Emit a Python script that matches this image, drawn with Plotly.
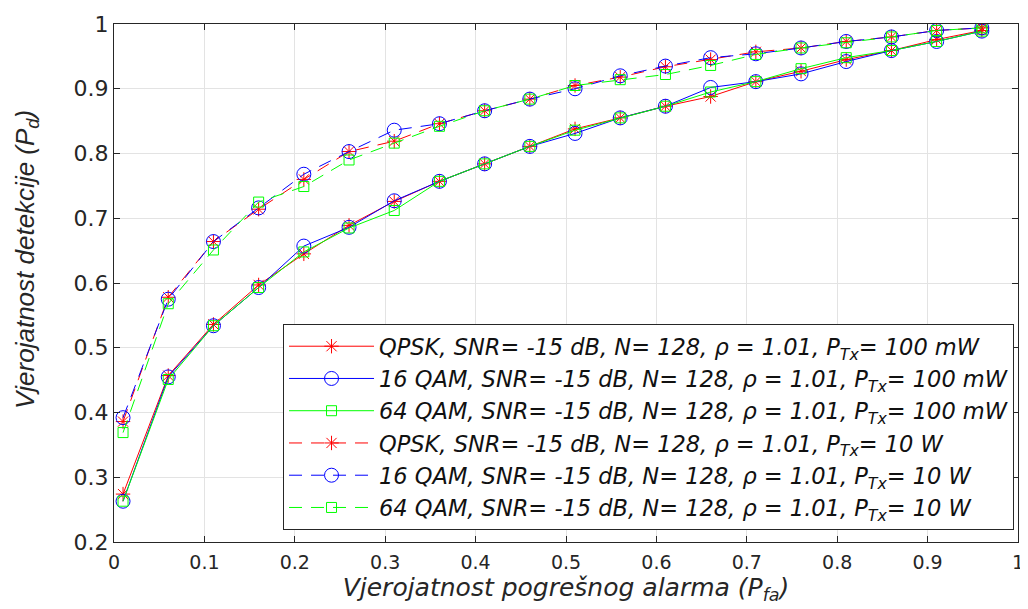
import plotly.graph_objects as go

pfa = [0.01, 0.06, 0.11, 0.16, 0.21, 0.26, 0.31, 0.36, 0.41, 0.46,
       0.51, 0.56, 0.61, 0.66, 0.71, 0.76, 0.81, 0.86, 0.91, 0.96]

qpsk_100mw = [0.274, 0.457, 0.536, 0.597, 0.645, 0.689, 0.726, 0.757, 0.784, 0.811,
              0.838, 0.855, 0.873, 0.888, 0.911, 0.927, 0.945, 0.959, 0.976, 0.990]
qam16_100mw = [0.263, 0.455, 0.534, 0.593, 0.657, 0.686, 0.727, 0.757, 0.784, 0.811,
               0.831, 0.855, 0.873, 0.902, 0.911, 0.923, 0.942, 0.959, 0.973, 0.989]
qam64_100mw = [0.263, 0.451, 0.534, 0.593, 0.648, 0.685, 0.712, 0.757, 0.784, 0.811,
               0.836, 0.855, 0.873, 0.895, 0.911, 0.931, 0.948, 0.959, 0.973, 0.989]
qpsk_10w = [0.386, 0.578, 0.664, 0.714, 0.760, 0.803, 0.819, 0.846, 0.866, 0.884,
            0.905, 0.918, 0.934, 0.945, 0.957, 0.963, 0.973, 0.980, 0.990, 0.994]
qam16_10w = [0.392, 0.575, 0.664, 0.716, 0.768, 0.803, 0.836, 0.846, 0.866, 0.884,
             0.900, 0.920, 0.935, 0.948, 0.954, 0.963, 0.973, 0.980, 0.990, 0.994]
qam64_10w = [0.369, 0.568, 0.651, 0.725, 0.749, 0.790, 0.816, 0.842, 0.866, 0.884,
             0.905, 0.914, 0.922, 0.936, 0.953, 0.963, 0.971, 0.980, 0.990, 0.994]

x_ticks = [0, 0.1, 0.2, 0.3, 0.4, 0.5, 0.6, 0.7, 0.8, 0.9, 1]
x_tick_labels = ["0", "0.1", "0.2", "0.3", "0.4", "0.5", "0.6", "0.7", "0.8", "0.9", "1"]
y_ticks = [0.2, 0.3, 0.4, 0.5, 0.6, 0.7, 0.8, 0.9, 1]
y_tick_labels = ["0.2", "0.3", "0.4", "0.5", "0.6", "0.7", "0.8", "0.9", "1"]

x_title = "<i>Vjerojatnost pogrešnog alarma (P<sub>fa</sub>)</i>"
y_title = "<i>Vjerojatnost detekcije (P<sub>d</sub>)</i>"

names = [
    "<i>QPSK, SNR= -15 dB, N= 128, ρ = 1.01, P<sub>Tx</sub>= 100 mW</i>",
    "<i>16 QAM, SNR= -15 dB, N= 128, ρ = 1.01, P<sub>Tx</sub>= 100 mW</i>",
    "<i>64 QAM, SNR= -15 dB, N= 128, ρ = 1.01, P<sub>Tx</sub>= 100 mW</i>",
    "<i>QPSK, SNR= -15 dB, N= 128, ρ = 1.01, P<sub>Tx</sub>= 10 W</i>",
    "<i>16 QAM, SNR= -15 dB, N= 128, ρ = 1.01, P<sub>Tx</sub>= 10 W</i>",
    "<i>64 QAM, SNR= -15 dB, N= 128, ρ = 1.01, P<sub>Tx</sub>= 10 W</i>",
]
series = [qpsk_100mw, qam16_100mw, qam64_100mw, qpsk_10w, qam16_10w, qam64_10w]
colors = ["#ff0000", "#0000ff", "#00ff00", "#ff0000", "#0000ff", "#00ff00"]
symbols = ["asterisk-open", "circle-open", "square-open",
           "asterisk-open", "circle-open", "square-open"]
sizes = [12, 14, 10, 12, 14, 10]
dashes = ["solid", "solid", "solid", "dash", "dash", "dash"]

fig = go.Figure()
for name, ys, c, s, sz, d in zip(names, series, colors, symbols, sizes, dashes):
    fig.add_trace(go.Scatter(
        x=pfa, y=ys, mode="lines+markers", name=name,
        line=dict(color=c, width=1, dash="13px,9px" if d == "dash" else "solid"),
        marker=dict(symbol=s, size=sz, color=c, line=dict(color=c, width=1)),
    ))

axis_common = dict(
    showline=True, linecolor="#262626", linewidth=1, mirror="allticks",
    ticks="inside", ticklen=6, tickcolor="#262626",
    showgrid=True, gridcolor="#e3e3e3", gridwidth=1, zeroline=False,
    ticklabeloverflow="allow",
)

# page body has an 8px default margin, so the figure is shrunk by 8px
fig.update_layout(
    width=1020, height=601,
    margin=dict(l=106, r=4, t=10, b=67),
    paper_bgcolor="white", plot_bgcolor="white",
    xaxis=dict(range=[0, 1], tickvals=x_ticks, ticktext=x_tick_labels,
               tickfont=dict(family="DejaVu Sans, sans-serif", size=19, color="#262626"),
               ticklabelstandoff=3,
               title=dict(text=x_title,
                          font=dict(family="DejaVu Sans, sans-serif", size=25, color="#262626"),
                          standoff=3),
               **axis_common),
    yaxis=dict(range=[0.2, 1], tickvals=y_ticks, ticktext=y_tick_labels,
               tickfont=dict(family="DejaVu Sans, sans-serif", size=22, color="#262626"),
               **axis_common),
    annotations=[dict(
        text=y_title, textangle=-90, showarrow=False,
        xref="paper", yref="paper", x=-0.097, y=0.545,
        xanchor="center", yanchor="middle",
        font=dict(family="Liberation Sans, Arial, sans-serif", size=26, color="#262626"),
    )],
    legend=dict(
        x=0.9956, y=0.023, xanchor="right", yanchor="bottom",
        bgcolor="white", bordercolor="#262626", borderwidth=1,
        font=dict(family="DejaVu Sans, sans-serif", size=22.5, color="#111111"),
        tracegroupgap=0, itemwidth=85,
    ),
    showlegend=True,
)

fig.write_html("out.html")
